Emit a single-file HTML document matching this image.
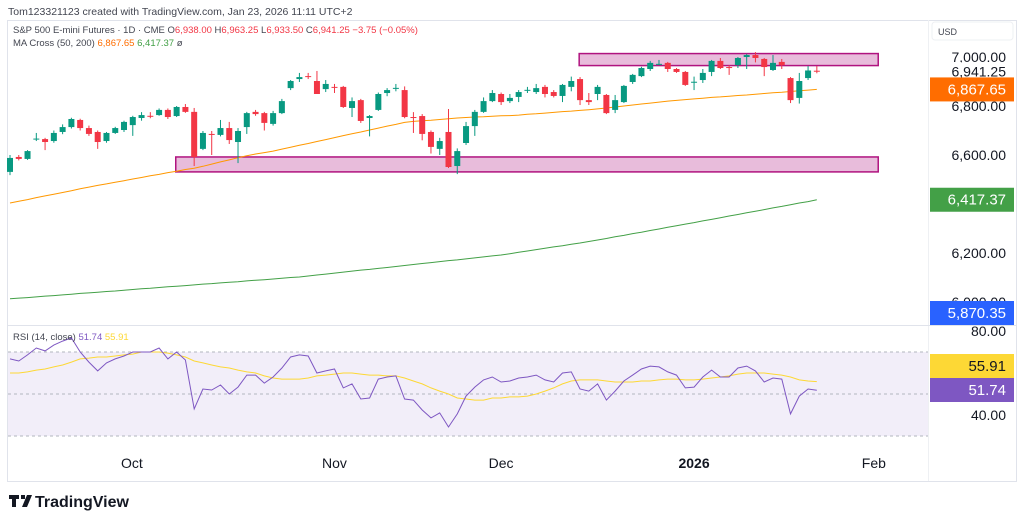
<!DOCTYPE html>
<html><head><meta charset="utf-8"><style>
html,body{margin:0;padding:0;background:#fff;width:1024px;height:524px;overflow:hidden;font-family:"Liberation Sans",sans-serif}
svg{display:block}
</style></head><body>
<svg id="chart" width="1024" height="524" viewBox="0 0 1024 524" xmlns="http://www.w3.org/2000/svg" font-family="Liberation Sans, sans-serif">
<text x="8" y="15" font-size="10.5" fill="#434651">Tom123321123 created with TradingView.com, Jan 23, 2026 11:11 UTC+2</text>
<rect x="7.5" y="20.5" width="1009" height="461" fill="none" stroke="#e0e3eb"/>
<line x1="928.5" y1="20" x2="928.5" y2="481" stroke="#eef0f3"/>
<line x1="8" y1="325.5" x2="1016" y2="325.5" stroke="#e0e3eb"/>
<rect x="8" y="352" width="920" height="84" fill="#7e57c2" fill-opacity="0.1"/>
<g id="grid"></g>
<g id="zones"></g>
<g id="lines"></g>
<g id="candles"></g>
<g id="rsi"></g>
<g id="axis"></g>
<g font-size="9.5">
<text x="13" y="33" fill="#434651">S&amp;P 500 E-mini Futures · 1D · CME  O<tspan fill="#f23645">6,938.00</tspan>  H<tspan fill="#f23645">6,963.25</tspan>  L<tspan fill="#f23645">6,933.50</tspan>  C<tspan fill="#f23645">6,941.25</tspan>  <tspan fill="#f23645">−3.75 (−0.05%)</tspan></text>
<text x="13" y="46" fill="#434651">MA Cross (50, 200) <tspan fill="#ff6d00">6,867.65</tspan> <tspan fill="#43a047">6,417.37</tspan> ø</text>
<text x="13" y="340" fill="#434651">RSI (14, close) <tspan fill="#7e57c2">51.74</tspan> <tspan fill="#fdd835">55.91</tspan></text>
</g>
<rect x="932" y="22" width="81" height="18" rx="3" fill="#fff" stroke="#eef0f3"/>
<text x="938" y="35" font-size="9" fill="#434651">USD</text>
<g>
<path d="M9 495h10v4h-3v8h-4v-8h-3z M21 495h4v4h-4z M27 495h5l-5 12h-5z" fill="#131722"/>
<text x="35" y="507" font-size="16" font-weight="bold" fill="#131722">TradingView</text>
</g>
</svg>
<script>
const opens=[6531,6592,6584,6665,6665,6657,6694,6714,6743,6710,6694,6657,6690,6702,6722,6751,6760,6763,6784,6759,6796,6776,6625,6686,6682,6710,6653,6714,6776,6771,6727,6771,6873,6910,6922,6902,6869,6878,6878,6792,6824,6751,6784,6853,6873,6865,6755,6759,6694,6625,6694,6555,6649,6718,6776,6820,6849,6820,6837,6865,6857,6878,6857,6841,6878,6910,6824,6849,6845,6784,6816,6898,6922,6951,6971,6976,6951,6939,6898,6906,6939,6984,6959,6967,7000,7008,6992,6947,6980,6914,6833,6914,6944];
const closes=[6588,6584,6616,6667,6653,6690,6714,6747,6710,6686,6653,6690,6710,6735,6755,6763,6759,6784,6755,6796,6776,6592,6690,6682,6710,6661,6698,6771,6767,6731,6771,6820,6902,6918,6918,6849,6890,6877,6796,6820,6739,6759,6849,6865,6874,6755,6751,6686,6633,6657,6551,6616,6718,6776,6820,6853,6816,6833,6857,6866,6873,6849,6841,6886,6902,6824,6816,6878,6771,6824,6882,6927,6955,6976,6972,6951,6939,6886,6899,6935,6984,6955,6955,6996,7008,6996,6959,6976,6967,6824,6902,6945,6941.25];
const highs=[6600,6600,6620,6690,6670,6700,6725,6752,6748,6720,6700,6694,6715,6740,6760,6775,6775,6790,6790,6800,6808,6792,6698,6698,6743,6735,6710,6776,6784,6776,6780,6829,6906,6935,6935,6943,6906,6890,6882,6835,6829,6763,6855,6873,6890,6880,6775,6767,6700,6670,6788,6627,6735,6784,6835,6865,6855,6849,6865,6878,6890,6886,6865,6890,6920,6918,6853,6886,6849,6845,6886,6931,6960,6984,6988,6980,6955,6943,6920,6951,6988,6996,6967,7000,7012,7020,6996,7008,6992,6918,6935,6963,6963.25];
const lows=[6518,6578,6580,6657,6620,6650,6685,6708,6700,6678,6625,6650,6686,6694,6678,6740,6750,6760,6747,6755,6772,6555,6620,6600,6676,6645,6567,6686,6760,6700,6720,6767,6865,6898,6910,6849,6857,6853,6792,6755,6731,6676,6780,6840,6860,6750,6690,6660,6606,6600,6547,6522,6641,6678,6772,6816,6804,6812,6816,6853,6849,6835,6835,6816,6860,6804,6804,6824,6767,6771,6812,6890,6918,6943,6967,6939,6935,6882,6865,6894,6922,6951,6927,6955,6951,6978,6922,6943,6951,6812,6810,6906,6933.5];
const ma50=[6404,6411,6418,6426,6433,6440,6447,6454,6462,6469,6476,6482,6489,6495,6502,6508,6515,6521,6528,6534,6541,6546,6554,6563,6572,6580,6589,6597,6604,6610,6616,6624,6632,6640,6647,6655,6663,6671,6679,6687,6694,6702,6710,6718,6725,6733,6737,6740,6742,6745,6748,6751,6753,6755,6756,6758,6760,6761,6763,6766,6768,6771,6774,6777,6779,6782,6785,6788,6792,6796,6800,6804,6808,6812,6816,6820,6823,6826,6829,6832,6835,6837,6840,6843,6845,6848,6851,6854,6856,6859,6862,6865,6867.65];
const ma200=[6013,6016,6018,6021,6024,6026,6029,6032,6035,6037,6040,6043,6045,6048,6051,6054,6056,6059,6062,6064,6067,6070,6073,6075,6078,6081,6083,6086,6089,6091,6094,6097,6100,6102,6106,6110,6114,6118,6122,6126,6130,6133,6137,6141,6145,6149,6153,6157,6161,6165,6169,6172,6176,6180,6184,6188,6192,6197,6203,6208,6214,6219,6225,6230,6236,6241,6247,6253,6259,6266,6272,6279,6285,6292,6298,6305,6311,6318,6324,6331,6337,6344,6351,6357,6364,6370,6377,6384,6390,6397,6404,6410,6417.37];
const rsiVals=[66.7,65.7,68.6,71.9,70.5,73.3,75.2,76.7,70,65.2,61,64.8,66.7,68.1,70,70,70,71.9,66.7,70,66.2,42.9,52.4,51.9,54.3,50,53.3,59,59,55.2,58.1,62.4,67.6,68.6,68.1,60,61,61.9,52.9,54.8,47.6,48.1,57.1,58.1,58.6,47.6,47.1,42.4,38.6,41,34.3,40.5,49,53.3,56.7,58.1,55.7,56.2,57.6,58.1,59,56.7,55.7,60,60.5,52.4,51.4,54.8,47.1,51.4,56.2,59,61.9,63.3,62.9,60.5,59,52.9,53.3,58.1,61.4,58.1,58.1,62.4,63.3,61,55.7,57.6,57.1,40.5,49,52.4,51.74];
const rsiMa=[60,60,60.5,61.4,61.9,62.9,63.8,65.2,66.7,67.1,67.6,67.6,68.1,68.6,69,70,70,70,69.5,68.6,67.6,65.7,64.8,63.8,62.9,62.4,61.4,60.5,60,58.6,57.6,57.1,57.1,57.1,57.6,58.6,59,59.5,60,60,59.5,59,59,58.6,58.6,57.6,56.2,54.8,52.9,51.4,50,48.1,47.6,47.1,47.1,48.1,48.1,48.6,48.6,49,50,51.4,52.9,54.8,56.2,56.7,56.7,56.7,56.2,55.7,55.7,55.7,56.2,56.2,56.7,57.1,57.1,56.7,56.7,57.1,57.6,58.1,58.6,59.5,60,60,60,59.5,59,58.1,56.7,56.2,55.91];
const priceTicks=[7000,6800,6600,6400,6200,6000];
const priceTickLabels=["7,000.00","6,800.00","6,600.00","6,400.00","6,200.00","6,000.00"];
const rsiTicks=[80,40];
const rsiTickLabels=["80.00","40.00"];
const rsiLevels=[70,50,30];
const timeLabels=["Oct","Nov","Dec","2026","Feb"];
const timeIdx=[13.9,37,56,78,98.5];
const zoneTopPrices=[7014,6965];
const zoneTopIdx=[64.9,99];
const zoneBottomPrices=[6592,6531];
const zoneBottomIdx=[18.9,99];

const NS="http://www.w3.org/2000/svg";
const X=i=>10+i*8.77;
const Y=p=>57+(7000-p)*0.245;
const R=v=>352+(70-v)*2.1;
function mk(tag,attrs,parent){const e=document.createElementNS(NS,tag);for(const k in attrs)e.setAttribute(k,attrs[k]);parent.appendChild(e);return e;}
const gZones=document.getElementById('zones'),gLines=document.getElementById('lines'),gC=document.getElementById('candles'),gR=document.getElementById('rsi'),gA=document.getElementById('axis');

let z=mk('rect',{x:X(zoneTopIdx[0]),y:Y(zoneTopPrices[0]),width:X(zoneTopIdx[1])-X(zoneTopIdx[0]),height:Y(zoneTopPrices[1])-Y(zoneTopPrices[0]),fill:'#e8bcdb',stroke:'#b0137f','stroke-width':1.5},gZones);


z=mk('rect',{x:X(zoneBottomIdx[0]),y:Y(zoneBottomPrices[0]),width:X(zoneBottomIdx[1])-X(zoneBottomIdx[0]),height:Y(zoneBottomPrices[1])-Y(zoneBottomPrices[0]),fill:'#e8bcdb',stroke:'#b0137f','stroke-width':1.5},gZones);



function poly(arr,fy){return arr.map((v,i)=>(i?'L':'M')+X(i).toFixed(1)+' '+fy(v).toFixed(1)).join(' ');}
let p=mk('path',{d:poly(ma200,Y),fill:'none',stroke:'#43a047','stroke-width':1},gLines);


p=mk('path',{d:poly(ma50,Y),fill:'none',stroke:'#ff9800','stroke-width':1},gLines);



for(let i=0;i<opens.length;i++){
  const up=closes[i]>opens[i];
  const col=up?'#089981':'#f23645';
  const g=mk('g',{},gC);
  
  
  mk('line',{x1:X(i),x2:X(i),y1:Y(highs[i]),y2:Y(lows[i]),stroke:col,'stroke-width':1},g);
  const t=Y(Math.max(opens[i],closes[i])),b=Y(Math.min(opens[i],closes[i]));
  mk('rect',{x:X(i)-3,y:t,width:6,height:Math.max(1,b-t),fill:col},g);
}

rsiLevels.forEach(v=>{
  const l=mk('line',{x1:8,x2:928,y1:R(v),y2:R(v),stroke:'#b2b5be','stroke-dasharray':'3 3','stroke-width':1},gR);
  
  
});
p=mk('path',{d:poly(rsiMa,R),fill:'none',stroke:'#fdd835','stroke-width':1},gR);


p=mk('path',{d:poly(rsiVals,R),fill:'none',stroke:'#7e57c2','stroke-width':1},gR);



function txt(s,x,y,attrs,name){const t=mk('text',Object.assign({x:x,y:y,'font-size':14,fill:'#131722','text-anchor':'end'},attrs||{}),gA);t.textContent=s;return t;}
priceTicks.forEach((v,i)=>txt(priceTickLabels[i],1006,Y(v)+5,{},'price-tick'));
rsiTicks.forEach((v,i)=>txt(rsiTickLabels[i],1006,R(v)+5,{},'rsi-tick'));
timeLabels.forEach((s,i)=>txt(s,X(timeIdx[i]),468,{'text-anchor':'middle','font-weight':s==='2026'?'bold':'normal'},'time-label'));

function badge(val,y,bg,fg,name){
  const r=mk('rect',{x:930,y:y-12,width:84,height:24,fill:bg},gA);
  
  
  txt(val,1006,y+5,{fill:fg,'font-size':15},name+'-value');
}
const lastC=closes[closes.length-1];
const lc=mk('rect',{x:930,y:Y(lastC)-9,width:84,height:18,fill:'#fff'},gA);


txt(lastC.toLocaleString('en-US',{minimumFractionDigits:2}),1006,Y(lastC)+5,{},'last-price');
badge(ma50[ma50.length-1].toLocaleString('en-US',{minimumFractionDigits:2}),Y(ma50[ma50.length-1]),'#ff6d00','#fff','ma50');
badge(ma200[ma200.length-1].toLocaleString('en-US',{minimumFractionDigits:2}),Y(ma200[ma200.length-1]),'#43a047','#fff','ma200');
badge('5,870.35',313,'#2962ff','#fff','offscreen-price');
badge(rsiMa[rsiMa.length-1].toFixed(2),366,'#fdd835','#131722','rsi-ma');
badge(rsiVals[rsiVals.length-1].toFixed(2),390,'#7e57c2','#fff','rsi');
</script>
</body></html>
